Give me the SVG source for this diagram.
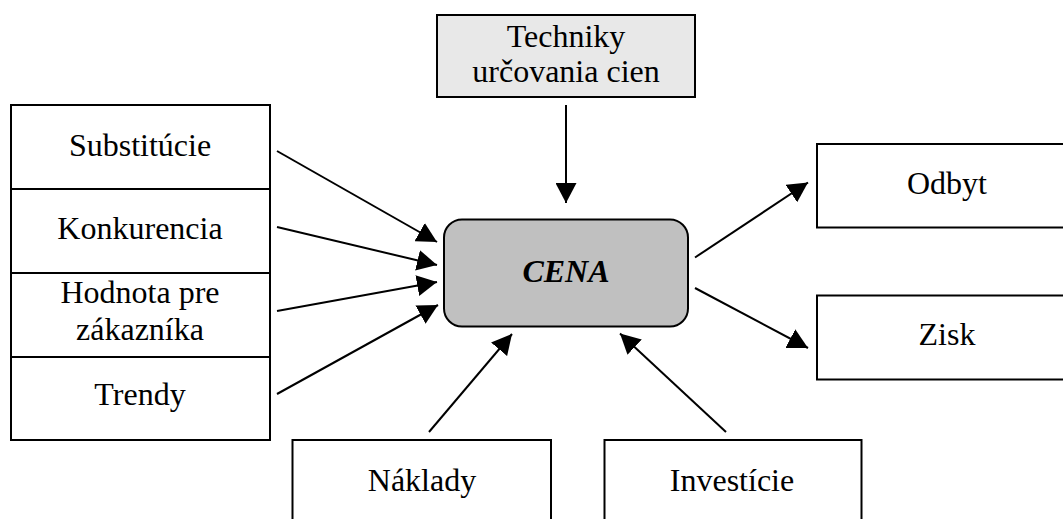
<svg xmlns="http://www.w3.org/2000/svg" width="1063" height="519" viewBox="0 0 1063 519">
  <style>
    .box { fill: #ffffff; stroke: #000000; stroke-width: 2; }
    .top { fill: #e8e8e8; stroke: #000000; stroke-width: 2; }
    .core { fill: #c0c0c0; stroke: #000000; stroke-width: 2; }
    .lbl { font-family: "Liberation Serif", "Times New Roman", serif; font-size: 32px; fill: #000000; text-anchor: middle; }
    .core-lbl { font-weight: bold; font-style: italic; }
    .edge { stroke: #000000; stroke-width: 2; fill: none; marker-end: url(#head); }
  </style>
  <defs>
    <marker id="head" markerUnits="userSpaceOnUse" markerWidth="21" markerHeight="21" refX="20" refY="10.5" orient="auto" viewBox="0 0 21 21">
      <path d="M0,0 L20,10.5 L0,21 Z" fill="#000000"/>
    </marker>
  </defs>
  <rect width="1063" height="519" fill="#ffffff"/>

  <g id="techniky">
    <rect class="top" x="437" y="15" width="258" height="82"/>
    <text class="lbl" x="566" y="47">Techniky</text>
    <text class="lbl" x="566" y="82">určovania cien</text>
  </g>

  <g id="substitucie">
    <rect class="box" x="11" y="105" width="259" height="84"/>
    <text class="lbl" x="140" y="156">Substitúcie</text>
  </g>
  <g id="konkurencia">
    <rect class="box" x="11" y="189" width="259" height="84"/>
    <text class="lbl" x="140" y="239">Konkurencia</text>
  </g>
  <g id="hodnota">
    <rect class="box" x="11" y="273" width="259" height="84"/>
    <text class="lbl" x="140" y="303">Hodnota pre</text>
    <text class="lbl" x="140" y="340">zákazníka</text>
  </g>
  <g id="trendy">
    <rect class="box" x="11" y="357" width="259" height="83"/>
    <text class="lbl" x="140" y="405">Trendy</text>
  </g>

  <g id="cena">
    <rect class="core" x="444" y="219.5" width="244" height="107" rx="18" ry="18"/>
    <text class="lbl core-lbl" x="566" y="282">CENA</text>
  </g>

  <g id="odbyt">
    <rect class="box" x="817" y="144" width="260" height="83.5"/>
    <text class="lbl" x="947" y="194">Odbyt</text>
  </g>
  <g id="zisk">
    <rect class="box" x="817" y="295.5" width="260" height="84"/>
    <text class="lbl" x="947" y="345">Zisk</text>
  </g>

  <g id="naklady">
    <rect class="box" x="292.5" y="440" width="258.5" height="100"/>
    <text class="lbl" x="422" y="491">Náklady</text>
  </g>
  <g id="investicie">
    <rect class="box" x="604.5" y="440" width="257" height="100"/>
    <text class="lbl" x="732" y="491">Investície</text>
  </g>

  <g id="connectors">
    <line class="edge" x1="566" y1="105" x2="566" y2="203"/>
    <line class="edge" x1="277" y1="151" x2="437" y2="242"/>
    <line class="edge" x1="277" y1="227" x2="437" y2="265"/>
    <line class="edge" x1="277" y1="311" x2="437" y2="282"/>
    <line class="edge" x1="277" y1="394" x2="438" y2="305"/>
    <line class="edge" x1="695" y1="257.5" x2="808" y2="182.5"/>
    <line class="edge" x1="695" y1="288" x2="808" y2="348"/>
    <line class="edge" x1="429" y1="432" x2="512" y2="334"/>
    <line class="edge" x1="726" y1="432" x2="620" y2="333.5"/>
  </g>
</svg>
